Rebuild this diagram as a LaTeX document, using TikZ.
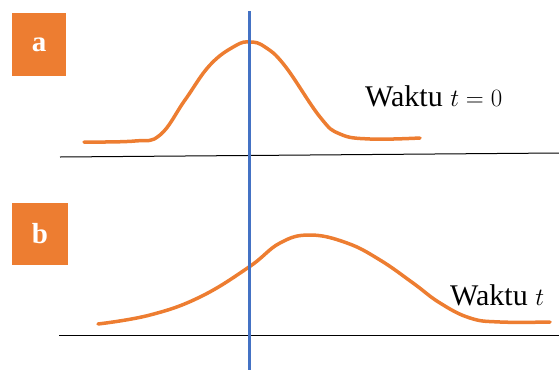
\documentclass[tikz,border=0pt]{standalone}
\usepackage{fontspec}
\setmainfont{Liberation Serif}
\usetikzlibrary{positioning}
\definecolor{pulseorange}{HTML}{ED7D31}
\definecolor{markblue}{HTML}{4472C4}

\begin{document}
\begin{tikzpicture}[
  x=1pt,y=-1pt,
  tag/.style={fill=pulseorange,text=white,inner sep=0pt,font=\fontsize{29}{34}\selectfont\bfseries},
  label/.style={inner sep=0pt,anchor=base west,font=\fontsize{30}{36}\selectfont},
  pulse/.style={pulseorange,line width=3.5pt,line cap=round,smooth,tension=0.7},
  axis/.style={black,line width=1pt}
]
\useasboundingbox (0,0) rectangle (559,370);
% letter boxes
\node[tag,minimum width=54pt,minimum height=63pt] (taga) at (39,44.5) {a};
\node[tag,minimum width=56pt,minimum height=62pt] (tagb) at (40,234) {b};
% base lines
\draw[axis] (60,157) -- (559,153);
\draw[axis] (59,335) -- (559,335);
% pulse at t = 0
\draw[pulse] plot coordinates {(84,142) (135,141) (160,135) (185,100) (210,65)
  (235,46) (250,42) (265,47) (285,66) (320,117) (340,134) (370,139) (420,138)};
% pulse at later time
\draw[pulse] plot coordinates {(98,324) (150,315) (200,297) (249,267) (280,243)
  (310,235) (347,243) (380,260) (413,283) (440,303) (470,318) (500,322) (550,322)};
% marker line
\draw[markblue,line width=3pt] (249,11) -- (249,370);
% labels
\node[label] (lbla) at (365,106) {Waktu {\fontsize{34}{40}\selectfont$t=0$}};
\node[label] (lblb) at (450,305) {Waktu {\fontsize{34}{40}\selectfont$t$}};
\end{tikzpicture}
\end{document}
